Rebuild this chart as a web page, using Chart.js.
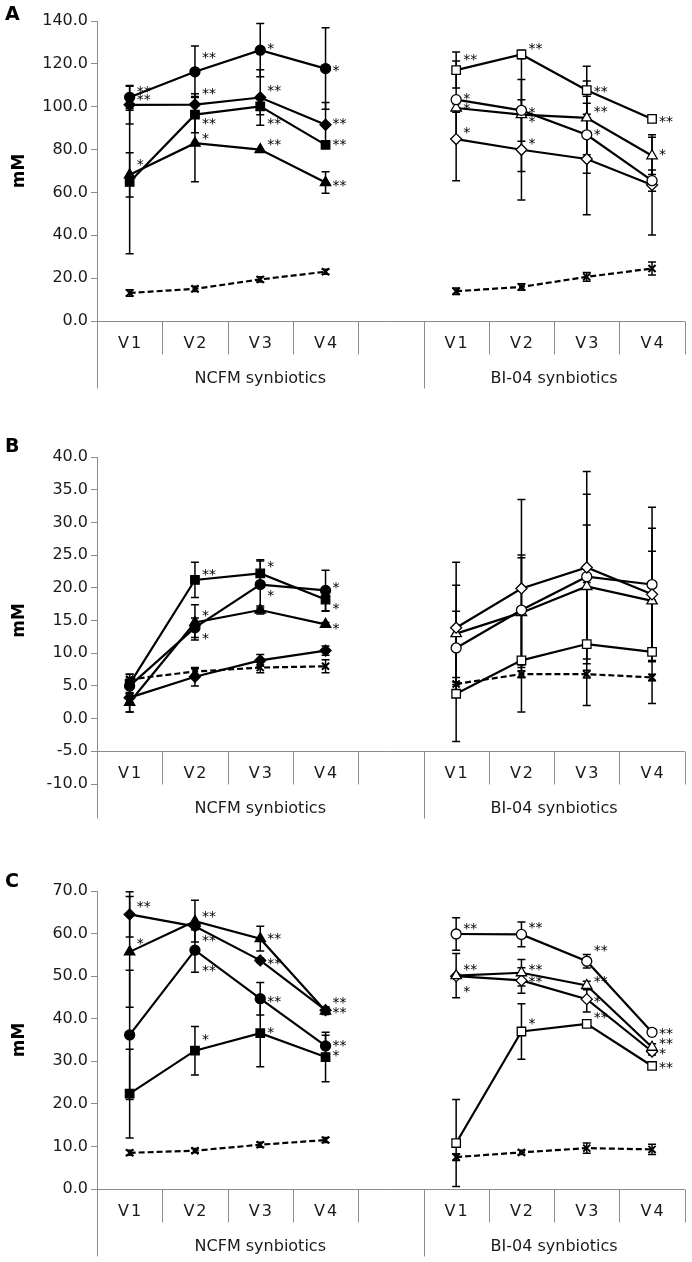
<!DOCTYPE html>
<html>
<head>
<meta charset="utf-8">
<script src="https://cdn.jsdelivr.net/npm/chart.js@4.4.1/dist/chart.umd.min.js"></script>
<style>
  html, body { margin: 0; padding: 0; background: #fff; }
  #wrap { position: relative; width: 692px; height: 1262px; }
  #wrap canvas { position: absolute; left: 0; }
</style>
</head>
<body>
<div id="wrap">
  <canvas id="chartA" width="692" height="395" style="top:0"></canvas>
  <canvas id="chartB" width="692" height="440" style="top:395px"></canvas>
  <canvas id="chartC" width="692" height="427" style="top:835px"></canvas>
</div>
<script>
/* globals Chart:false */

// ---- data ----
var categories = ['V1', 'V2', 'V3', 'V4', '', 'V1', 'V2', 'V3', 'V4'];
var groupLabels = ['NCFM synbiotics', 'BI-04 synbiotics'];
var ticksA = { min: 0, max: 140, step: 20 };
var ticksB = { min: -10, max: 40, step: 5 };
var ticksC = { min: 0, max: 70, step: 10 };

// panel A, NCFM (filled markers)
var aNcCircle = [104.4, 116.3, 126.4, 117.8], aNcCircleSd = [5.2, 12.0, 12.4, 19.0], aNcCircleSig = ['**', '**', '*', '*'];
var aNcDiamond = [100.9, 101.0, 104.3, 91.6], aNcDiamondSd = [9.0, 5.0, 13.0, 10.4], aNcDiamondSig = ['**', '**', '**', '**'];
var aNcSquare = [64.9, 96.3, 100.2, 82.2], aNcSquareSd = [33.5, 8.5, 4.0, 0], aNcSquareSig = ['', '**', '**', '**'];
var aNcTriangle = [68.2, 83.0, 80.0, 64.6], aNcTriangleSd = [10.3, 18.0, 0, 5.0], aNcTriangleSig = ['*', '*', '**', '**'];
var aNcControl = [13.1, 15.0, 19.4, 23.0], aNcControlSd = [1.5, 1.2, 1.2, 1.2];
// panel A, BI-04 (open markers)
var aBiSquare = [117.1, 124.4, 107.7, 94.3], aBiSquareSd = [8.4, 2.0, 11.2, 0], aBiSquareSig = ['**', '**', '**', '**'];
var aBiCircle = [103.3, 98.3, 86.9, 65.5], aBiCircleSd = [18.0, 14.4, 18.0, 5.0], aBiCircleSig = ['*', '*', '*', ''];
var aBiTriangle = [99.4, 96.3, 94.8, 77.1], aBiTriangleSd = [2.0, 26.5, 17.2, 8.7], aBiTriangleSig = ['*', '*', '**', '*'];
var aBiDiamond = [84.9, 79.9, 75.6, 63.5], aBiDiamondSd = [19.4, 23.4, 26.0, 23.4], aBiDiamondSig = ['*', '*', '', ''];
var aBiControl = [13.9, 15.9, 20.6, 24.5], aBiControlSd = [1.5, 1.5, 2.0, 3.0];

// panel B, NCFM
var bNcSquare = [5.3, 21.2, 22.2, 18.2], bNcSquareSd = [1.5, 2.7, 2.1, 1.8], bNcSquareSig = ['', '**', '*', '*'];
var bNcCircle = [5.0, 13.9, 20.5, 19.6], bNcCircleSd = [1.2, 1.5, 3.6, 3.1], bNcCircleSig = ['', '*', '*', '*'];
var bNcTriangle = [2.5, 14.7, 16.6, 14.4], bNcTriangleSd = [1.5, 2.7, 0.6, 0.3], bNcTriangleSig = ['', '*', '', '*'];
var bNcDiamond = [3.2, 6.4, 8.9, 10.4], bNcDiamondSd = [2.2, 1.4, 0.9, 0.7];
var bNcControl = [6.0, 7.2, 7.8, 8.0], bNcControlSd = [0.8, 0.5, 0.8, 1.0];
// panel B, BI-04
var bBiDiamond = [13.9, 19.9, 23.1, 19.0], bBiDiamondSd = [10.0, 13.6, 14.7, 10.1];
var bBiCircle = [10.8, 16.6, 21.7, 20.5], bBiCircleSd = [5.6, 8.4, 12.6, 11.8];
var bBiTriangle = [13.0, 16.2, 20.2, 18.0], bBiTriangleSd = [7.4, 8.4, 9.4, 7.6];
var bBiSquare = [3.8, 8.9, 11.4, 10.2], bBiSquareSd = [7.3, 7.9, 9.4, 7.9];
var bBiControl = [5.3, 6.8, 6.8, 6.3], bBiControlSd = [1.0, 0.5, 0.6, 0.5];

// panel C, NCFM
var cNcDiamond = [64.5, 61.7, 53.7, 42.0], cNcDiamondSd = [5.3, 0.8, 0.5, 0.8], cNcDiamondSig = ['**', '**', '**', '**'];
var cNcTriangle = [55.7, 62.9, 58.8, 41.8], cNcTriangleSd = [13.0, 4.9, 2.9, 0.8], cNcTriangleSig = ['*', '**', '**', '**'];
var cNcCircle = [36.2, 56.1, 44.7, 33.6], cNcCircleSd = [15.2, 5.2, 3.8, 2.5], cNcCircleSig = ['', '**', '**', '**'];
var cNcSquare = [22.4, 32.5, 36.6, 31.0], cNcSquareSd = [10.4, 5.7, 7.9, 5.8], cNcSquareSig = ['', '*', '*', '*'];
var cNcControl = [8.5, 9.0, 10.4, 11.5], cNcControlSd = [0.6, 0.5, 0.6, 0.6];
// panel C, BI-04
var cBiCircle = [59.9, 59.8, 53.5, 36.8], cBiCircleSd = [3.8, 2.9, 1.6, 0.8], cBiCircleSig = ['**', '**', '**', '**'];
var cBiTriangle = [50.1, 50.8, 47.8, 33.3], cBiTriangleSd = [5.2, 3.1, 1.0, 0.8], cBiTriangleSig = ['**', '**', '**', '**'];
var cBiDiamond = [50.0, 49.0, 44.6, 32.3], cBiDiamondSd = [0, 3.0, 3.0, 0.8], cBiDiamondSig = ['*', '**', '*', '*'];
var cBiSquare = [10.8, 37.0, 38.8, 28.9], cBiSquareSd = [10.2, 6.5, 0.7, 0.6], cBiSquareSig = ['', '*', '**', '**'];
var cBiControl = [7.5, 8.6, 9.6, 9.3], cBiControlSd = [0.8, 0.5, 1.2, 1.2];

// ---- where the asterisks sit relative to their point (px, vertical) ----
var nudge = {
    aNcCircle: [-8, -16, -4, 0], aNcDiamond: [-7, -13, -9, -3], aNcSquare: [0, 7, 15, -2], aNcTriangle: [-12, -7, -7, 1],
    aBiSquare: [-13, -8, -1, 0], aBiCircle: [-3, 0, -2, 0], aBiTriangle: [-2, 5, -8, -3], aBiDiamond: [-9, -8, 0, 0],
    bNcSquare: [0, -8, -9, 7], bNcCircle: [0, 9, 9, -5], bNcTriangle: [0, -9, 0, 2],
    cNcDiamond: [-10, 12, 1, 0], cNcTriangle: [-11, -7, -2, -11], cNcCircle: [0, 18, 1, -3], cNcSquare: [0, -13, -3, -4],
    cBiCircle: [-8, -9, -13, -1], cBiTriangle: [-8, -5, -6, -6], cBiDiamond: [13, -1, 0, 0], cBiSquare: [0, -10, -8, -1]
};

var gridColor = '#8c8c8c';
var textColor = '#1a1a1a';
var fontFamily = '"DejaVu Sans", Verdana, sans-serif';

var marks = {
    circle: { style: 'circle', r: 5 },
    diamond: { style: 'rectRot', r: 5.5 },
    square: { style: 'rect', r: 6 },
    triangle: { style: 'triangle', r: 6 },
    control: { style: 'crossRot', r: 5 }
};

function place(vals, left) {
    var gap = [null, null, null, null, null];
    return left ? vals.concat(gap) : gap.concat(vals);
}

function series(vals, sd, sig, dy, shape, left) {
    var m = marks[shape];
    var control = shape === 'control';
    return {
        data: place(vals, left),
        errs: place(sd, left),
        sig: sig ? place(sig, left) : null,
        sigDy: dy ? place(dy, left) : null,
        borderColor: '#000',
        borderWidth: 2.2,
        borderDash: control ? [6, 3] : [],
        pointStyle: m.style,
        pointRadius: m.r,
        pointBorderWidth: control ? 2 : 1.3,
        pointBackgroundColor: (left || control) ? '#000' : '#fff',
        pointBorderColor: '#000',
        tension: 0,
        spanGaps: false
    };
}

// error bars, asterisks and the two-level category axis
var deco = {
    id: 'deco',
    beforeDatasetsDraw: function (chart, args, o) {
        var ctx = chart.ctx, y = chart.scales.y, area = chart.chartArea;
        var w = (area.right - area.left) / categories.length;
        var ay = Math.round(y.getPixelForValue(o.axisAt)) + 0.5;
        var lx = Math.round(area.left) + 0.5;
        ctx.save();
        ctx.strokeStyle = gridColor;
        ctx.lineWidth = 1;
        ctx.beginPath();
        ctx.moveTo(lx, ay); ctx.lineTo(area.right, ay);
        ctx.moveTo(lx, area.bottom); ctx.lineTo(lx, ay + 67);
        for (var i = 1; i <= categories.length; i++) {
            var xx = Math.round(area.left + i * w) + 0.5;
            ctx.moveTo(xx, ay);
            ctx.lineTo(xx, i === 5 ? ay + 67 : ay + 33);
        }
        ctx.stroke();
        ctx.fillStyle = textColor;
        ctx.font = '16px ' + fontFamily;
        ctx.textAlign = 'center';
        ctx.textBaseline = 'middle';
        ctx.letterSpacing = '2px';
        categories.forEach(function (c, i) {
            ctx.fillText(c, area.left + (i + 0.5) * w + 1, ay + 22);
        });
        ctx.letterSpacing = '0px';
        ctx.fillText(groupLabels[0], area.left + 2.5 * w, ay + 57);
        ctx.fillText(groupLabels[1], area.left + 7 * w, ay + 57);

        // panel letter and axis title
        ctx.font = 'bold 19px ' + fontFamily;
        ctx.textAlign = 'left';
        ctx.fillStyle = '#000';
        ctx.fillText(o.letter, 5, o.letterY);
        ctx.save();
        ctx.translate(20, (area.top + area.bottom) / 2);
        ctx.rotate(-Math.PI / 2);
        ctx.textAlign = 'center';
        ctx.font = 'bold 17px ' + fontFamily;
        ctx.fillText('mM', 0, 0);
        ctx.restore();

        // error bars
        ctx.strokeStyle = '#000';
        ctx.lineWidth = 1.5;
        chart.data.datasets.forEach(function (ds, di) {
            var meta = chart.getDatasetMeta(di);
            meta.data.forEach(function (pt, j) {
                var v = ds.data[j], e = ds.errs[j];
                if (v === null || !e) return;
                var y1 = y.getPixelForValue(v + e), y2 = y.getPixelForValue(v - e);
                ctx.beginPath();
                ctx.moveTo(pt.x, y1); ctx.lineTo(pt.x, y2);
                ctx.moveTo(pt.x - 4, y1); ctx.lineTo(pt.x + 4, y1);
                ctx.moveTo(pt.x - 4, y2); ctx.lineTo(pt.x + 4, y2);
                ctx.stroke();
            });
        });
        ctx.restore();
    },
    afterDatasetsDraw: function (chart) {
        var ctx = chart.ctx;
        ctx.save();
        ctx.fillStyle = '#000';
        ctx.font = '14px ' + fontFamily;
        ctx.textAlign = 'left';
        ctx.textBaseline = 'middle';
        chart.data.datasets.forEach(function (ds, di) {
            if (!ds.sig) return;
            var meta = chart.getDatasetMeta(di);
            meta.data.forEach(function (pt, j) {
                var s = ds.sig[j];
                if (!s) return;
                ctx.fillText(s, pt.x + 7, pt.y + ds.sigDy[j] + 3);
            });
        });
        ctx.restore();
    }
};

function createChart(ctx, datasets, t, pad, axisAt, letter, letterY) {
    return new Chart(ctx, {
        type: 'line',
        data: { labels: categories, datasets: datasets },
        plugins: [deco],
        options: {
            responsive: false,
            animation: false,
            layout: { padding: { left: 0, right: 5, top: pad[0], bottom: pad[1] } },
            plugins: {
                legend: { display: false },
                tooltip: { enabled: false },
                deco: { axisAt: axisAt, letter: letter, letterY: letterY }
            },
            scales: {
                x: { type: 'category', display: false, offset: true },
                y: {
                    min: t.min, max: t.max,
                    afterFit: function (scale) { scale.width = 97; },
                    border: { display: true, color: gridColor, width: 1 },
                    grid: { display: true, drawOnChartArea: false, drawTicks: true, tickLength: 6, color: gridColor },
                    ticks: {
                        stepSize: t.step, padding: 3, color: textColor,
                        font: { family: fontFamily, size: 16 },
                        callback: function (v) { return v.toFixed(1); }
                    }
                }
            }
        }
    });
}

createChart(document.getElementById('chartA'), [
    series(aNcCircle, aNcCircleSd, aNcCircleSig, nudge.aNcCircle, 'circle', true),
    series(aNcDiamond, aNcDiamondSd, aNcDiamondSig, nudge.aNcDiamond, 'diamond', true),
    series(aNcSquare, aNcSquareSd, aNcSquareSig, nudge.aNcSquare, 'square', true),
    series(aNcTriangle, aNcTriangleSd, aNcTriangleSig, nudge.aNcTriangle, 'triangle', true),
    series(aNcControl, aNcControlSd, null, null, 'control', true),
    series(aBiSquare, aBiSquareSd, aBiSquareSig, nudge.aBiSquare, 'square', false),
    series(aBiCircle, aBiCircleSd, aBiCircleSig, nudge.aBiCircle, 'circle', false),
    series(aBiTriangle, aBiTriangleSd, aBiTriangleSig, nudge.aBiTriangle, 'triangle', false),
    series(aBiDiamond, aBiDiamondSd, aBiDiamondSig, nudge.aBiDiamond, 'diamond', false),
    series(aBiControl, aBiControlSd, null, null, 'control', false)
], ticksA, [21, 74], 0, 'A', 15);

createChart(document.getElementById('chartB'), [
    series(bNcSquare, bNcSquareSd, bNcSquareSig, nudge.bNcSquare, 'square', true),
    series(bNcCircle, bNcCircleSd, bNcCircleSig, nudge.bNcCircle, 'circle', true),
    series(bNcTriangle, bNcTriangleSd, bNcTriangleSig, nudge.bNcTriangle, 'triangle', true),
    series(bNcDiamond, bNcDiamondSd, null, null, 'diamond', true),
    series(bNcControl, bNcControlSd, null, null, 'control', true),
    series(bBiDiamond, bBiDiamondSd, null, null, 'diamond', false),
    series(bBiCircle, bBiCircleSd, null, null, 'circle', false),
    series(bBiTriangle, bBiTriangleSd, null, null, 'triangle', false),
    series(bBiSquare, bBiSquareSd, null, null, 'square', false),
    series(bBiControl, bBiControlSd, null, null, 'control', false)
], ticksB, [62, 51], -5, 'B', 52);

createChart(document.getElementById('chartC'), [
    series(cNcDiamond, cNcDiamondSd, cNcDiamondSig, nudge.cNcDiamond, 'diamond', true),
    series(cNcTriangle, cNcTriangleSd, cNcTriangleSig, nudge.cNcTriangle, 'triangle', true),
    series(cNcCircle, cNcCircleSd, cNcCircleSig, nudge.cNcCircle, 'circle', true),
    series(cNcSquare, cNcSquareSd, cNcSquareSig, nudge.cNcSquare, 'square', true),
    series(cNcControl, cNcControlSd, null, null, 'control', true),
    series(cBiCircle, cBiCircleSd, cBiCircleSig, nudge.cBiCircle, 'circle', false),
    series(cBiTriangle, cBiTriangleSd, cBiTriangleSig, nudge.cBiTriangle, 'triangle', false),
    series(cBiDiamond, cBiDiamondSd, cBiDiamondSig, nudge.cBiDiamond, 'diamond', false),
    series(cBiSquare, cBiSquareSd, cBiSquareSig, nudge.cBiSquare, 'square', false),
    series(cBiControl, cBiControlSd, null, null, 'control', false)
], ticksC, [56, 73], 0, 'C', 47);
</script>
</body>
</html>
